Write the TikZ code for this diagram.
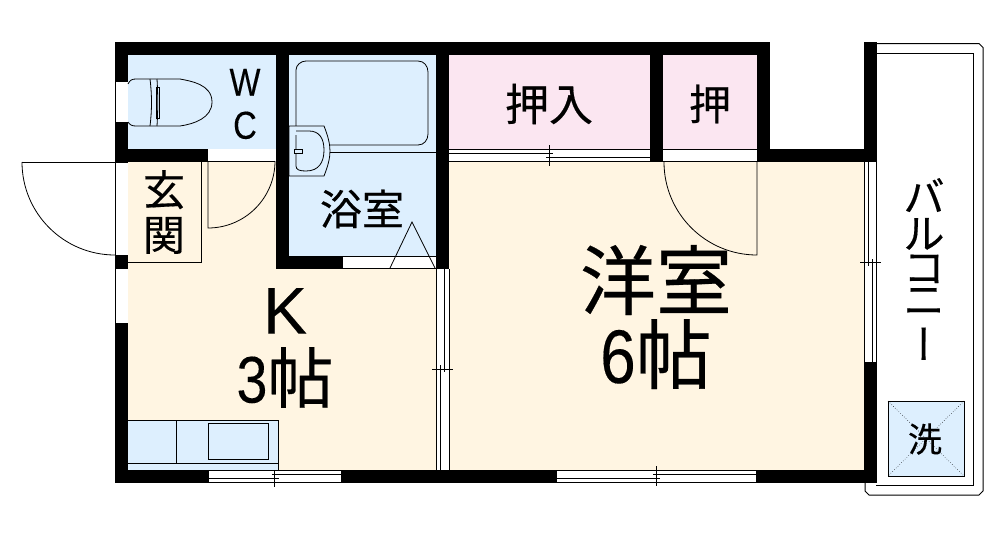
\documentclass[tikz,border=0pt]{standalone}
\usepackage{fontspec}
\newfontfamily\cjk[FakeBold=0.35]{Noto Sans CJK JP}
\newfontfamily\cjkv[RawFeature=+vert,FakeBold=0.35]{Noto Sans CJK JP}
\newfontfamily\latn[FakeBold=0.2]{Liberation Sans}
\newfontfamily\latnc[FakeStretch=0.84,FakeBold=0.2]{Liberation Sans}
\newcommand{\fsz}[1]{\fontsize{#1}{#1}\selectfont}
\definecolor{cream}{HTML}{FFF5E2}
\definecolor{aqua}{HTML}{DDEFFE}
\definecolor{rosa}{HTML}{FBE6F1}
\tikzset{
  wall/.style={fill=black,draw=none},
  opening/.style={fill=white,draw=none},
  thin line/.style={draw=black,line width=1pt},
  fine line/.style={draw=black,line width=.8pt},
  label text/.style={inner sep=0pt,anchor=center,align=center,text=black},
}
\begin{document}
\begin{tikzpicture}[x=1pt,y=-1pt]
\useasboundingbox (0,0) rectangle (999,539);
\fill[white] (0,0) rectangle (999,539);
% room fills
\fill[cream] (128,162) rectangle (864,470);
\fill[aqua] (128,55) rectangle (276,149);
\fill[aqua] (289,55) rectangle (436,256);
\fill[rosa] (449,55) rectangle (650,149);
\fill[rosa] (663,55) rectangle (757,149);
% walls
\fill[wall] (115,42) rectangle (770,55);
\fill[wall] (115,42) rectangle (128,162);
\fill[wall] (128,149) rectangle (208,162);
\fill[wall] (276,42) rectangle (289,269);
\fill[wall] (289,256) rectangle (343,269);
\fill[wall] (436,42) rectangle (449,269);
\fill[wall] (650,42) rectangle (663,162);
\fill[wall] (757,42) rectangle (770,162);
\fill[wall] (770,149) rectangle (877,162);
\fill[wall] (864,42) rectangle (877,162);
\fill[wall] (864,362) rectangle (877,483);
\fill[wall] (115,255) rectangle (128,269);
\fill[wall] (115,323) rectangle (128,483);
\fill[wall] (128,470) rectangle (864,483);
% openings
\fill[opening] (115,82) rectangle (128,122);
\fill[opening] (115,162) rectangle (128,255);
\fill[opening] (115,269) rectangle (128,323);
\fill[opening] (208,149) rectangle (276,161);
\fill[opening] (343,256) rectangle (436,268);
\fill[opening] (449,149) rectangle (650,162);
\fill[opening] (663,149) rectangle (757,161);
\fill[opening] (436,269) rectangle (449,470);
\fill[opening] (864,162) rectangle (877,362);
\fill[opening] (209,470) rectangle (341,483);
\fill[opening] (557,470) rectangle (756,483);
% entrance
\draw[thin line] (115,82) -- (115,122) (115,162) -- (115,255) (115,269) -- (115,323);
\draw[fine line] (22,162) -- (128,162);
\draw[fine line] (22,162) arc[start angle=180,end angle=270,radius=93pt];
\draw[thin line] (128,262) -- (201.5,262) -- (201.5,162);
\draw[fine line] (208,161.5) -- (275,161.5);
\draw[fine line] (208,162) -- (208,228) arc[start angle=270,end angle=360,radius=67pt];
% toilet
\draw[fine line] (128,84) .. controls (130,80) and (132,79) .. (136,79) -- (180,79)
  .. controls (190,81) and (212,84) .. (212,102)
  .. controls (212,118) and (194,124) .. (180,126) -- (136,126)
  .. controls (132,126) and (130,125) .. (128,122);
\draw[fine line] (150,79) .. controls (152,95) and (152,110) .. (150,126);
\draw[fine line] (157,79) .. controls (158,95) and (158,110) .. (157,126);
\draw[fine line] (156,87) rectangle (159.5,118);
% bath
\draw[fine line] (296,126) -- (296,70) .. controls (296,65) and (301,61) .. (306,61)
  -- (418,61) .. controls (424,61) and (428,66) .. (428,72) -- (428,134)
  .. controls (428,140) and (424,145) .. (418,145) -- (329,145);
\draw[fine line] (330,152) -- (436,152);
\draw[fine line,fill=aqua] (289,126) -- (324,126) .. controls (328,136) and (330,144) .. (330,151)
  .. controls (330,158) and (328,166) .. (324,176) -- (289,176) -- cycle;
\draw[fine line] (296,131) -- (309,131) .. controls (319,131) and (324,138) .. (324,150)
  .. controls (324,162) and (319,171) .. (306,171) .. controls (300,171) and (296,170) .. (296,166) -- (296,135);
\draw[fine line,fill=aqua] (294,149.5) rectangle (302,153);
\draw[fine line] (390,268) -- (412,222) -- (435,268);
\draw[thin line] (343,256) -- (436,256) (343,268.5) -- (436,268.5);
% closet sliding doors
\draw[thin line] (449,149.5) -- (650,149.5) (449,161.5) -- (650,161.5);
\draw[thin line] (449,153.5) -- (553,153.5) (546,157.5) -- (650,157.5);
\draw[thin line] (549,145) -- (549,166);
\draw[thin line] (663,149.5) -- (757,149.5) (663,161.5) -- (757,161.5);
\draw[fine line] (664,162) arc[start angle=180,end angle=270,radius=93pt] -- (757,161.5);
% inner sliding door
\draw[thin line] (436.5,269) -- (436.5,470) (449,269) -- (449,470);
\draw[thin line] (444.5,269) -- (444.5,372) (440.5,365) -- (440.5,470);
\draw[thin line] (432,369) -- (453,369);
% right window
\draw[thin line] (864.5,162) -- (864.5,362) (876.7,162) -- (876.7,362);
\draw[thin line] (868.3,162) -- (868.3,266) (872.3,259) -- (872.3,362);
\draw[thin line] (860,262) -- (881,262);
% bottom windows
\draw[thin line] (209,470.5) -- (341,470.5) (209,482) -- (341,482);
\draw[thin line] (272,474) -- (341,474) (209,478) -- (279,478);
\draw[thin line] (274,466) -- (274,487);
\draw[thin line] (557,470.5) -- (756,470.5) (557,482) -- (756,482);
\draw[thin line] (653,474.5) -- (756,474.5) (557,478) -- (660,478);
\draw[thin line] (656,466) -- (656,486);
% kitchen
\draw[thin line,fill=aqua] (128,420) -- (278,420) -- (278,470) -- (128,470);
\draw[thin line] (176,420) -- (176,463) (128,463) -- (278,463);
\draw[thin line] (208,423.5) rectangle (268,459);
% balcony
\draw[thin line] (877,43.5) -- (979,43.5) -- (983,47.5) -- (983,491) -- (979,495) -- (869,495) -- (865,491) -- (865,483);
\draw[thin line] (877,53) -- (973.5,53) -- (973.5,485) -- (876,485);
\draw[thin line,fill=aqua] (888,401) rectangle (964,476);
\draw[line width=.5pt,dotted] (888,401) -- (964,476) (964,401) -- (888,476);
% labels
\node[label text,font=\latnc\fontsize{39}{43}\selectfont] (wc) at (245,104) {W\\C};
\node[label text,font=\cjk\fontsize{42}{45}\selectfont] (genkan) at (164,212) {玄\\関};
\node[label text,font=\cjk\fsz{42}] (bath) at (362,209) {浴室};
\node[label text,font=\cjk\fsz{44}] (closet1) at (549,104) {押入};
\node[label text,font=\cjk\fsz{42}] (closet2) at (710,104) {押};
\node[label text,font=\fontsize{66}{69}\selectfont] (kitchen) at (285,348)
  {{\latn K}\\{\latnc 3}{\cjk 帖}};
\node[label text,font=\fontsize{76}{76}\selectfont] (western) at (656,317)
  {{\cjk 洋室}\\[-2pt]{\latnc 6}{\cjk 帖}};
\node[label text,font=\cjk\fontsize{41}{37}\selectfont] (balcony) at (924,269) {バ\\ル\\[-3pt]コ\\[-5pt]ニ\\[8pt]{\cjkv ー}};
\node[label text,font=\cjk\fsz{34}] (washer) at (925,439) {洗};
\end{tikzpicture}
\end{document}
